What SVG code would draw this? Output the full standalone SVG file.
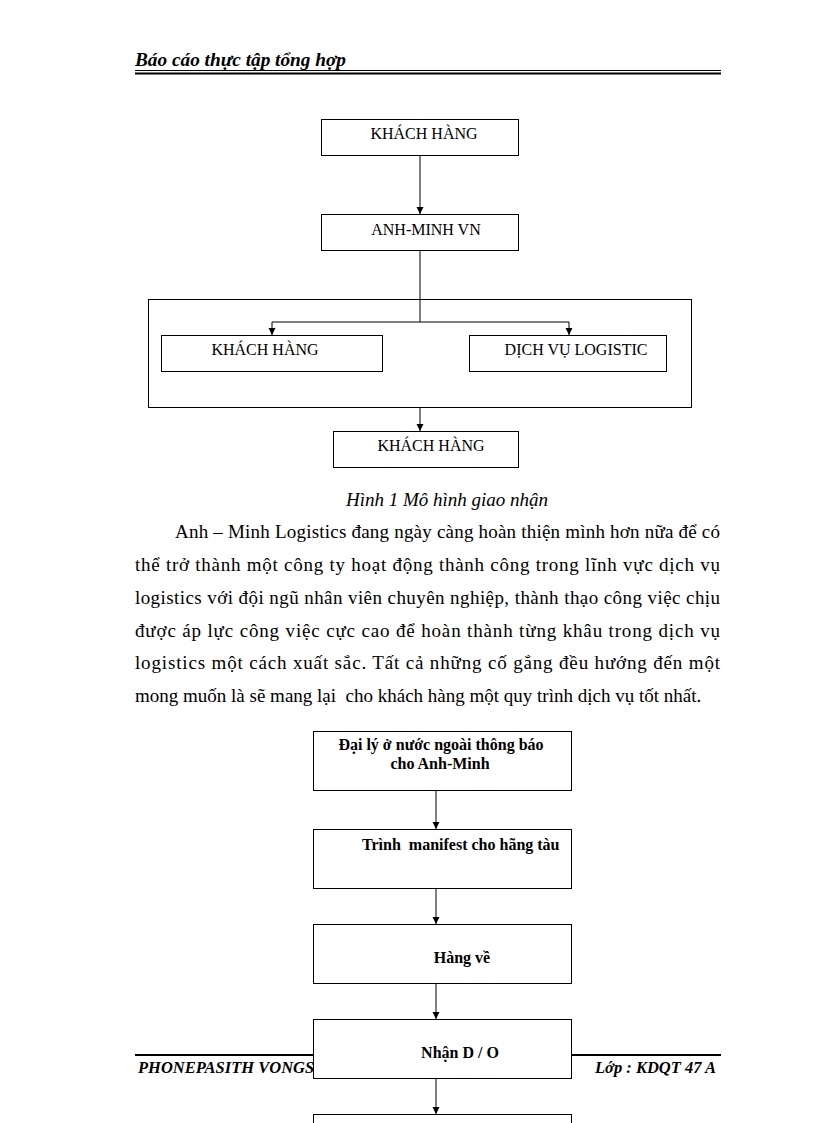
<svg xmlns="http://www.w3.org/2000/svg" width="816" height="1123" viewBox="0 0 816 1123">
<style>
.box{fill:#fff;stroke:#000;stroke-width:1}
.t{font-family:"Liberation Serif","Times New Roman",serif;fill:#000}
.n{font-size:16px}
.b{font-size:16px;font-weight:bold}
.p{font-size:19px}
.conn line{stroke:#000;stroke-width:1;fill:none}
</style>
<defs>
<marker id="ad" markerWidth="8" markerHeight="8" refX="4" refY="8" markerUnits="userSpaceOnUse" viewBox="0 0 8 8">
<path d="M0.5,1 L7.5,1 L4,8 Z" fill="#000"/>
</marker>
</defs>
<rect width="816" height="1123" fill="#fff"/>
<g id="header">
<text class="t" x="135" y="66" font-size="19.3" font-weight="bold" font-style="italic">Báo cáo thực tập tổng hợp</text>
<line x1="135" y1="70.5" x2="721" y2="70.5" stroke="#000" stroke-width="1"/>
<line x1="135" y1="73.5" x2="721" y2="73.5" stroke="#000" stroke-width="2"/>
</g>
<g id="footer">
<line x1="135" y1="1055" x2="721" y2="1055" stroke="#000" stroke-width="2"/>
<text class="t" x="138" y="1073" font-size="16.5" font-weight="bold" font-style="italic">PHONEPASITH VONGS</text>
<text class="t" x="716" y="1073" font-size="16.5" font-weight="bold" font-style="italic" text-anchor="end">Lớp : KDQT 47 A</text>
</g>
<g id="group-box"><rect class="box" x="148.5" y="299.5" width="543" height="108" fill="none"/></g>
<g class="conn" id="connectors">
<line x1="420" y1="155" x2="420" y2="214" marker-end="url(#ad)"/>
<line x1="420" y1="250" x2="420" y2="322"/>
<line x1="272" y1="322" x2="569" y2="322"/>
<line x1="272" y1="322" x2="272" y2="335" marker-end="url(#ad)"/>
<line x1="569" y1="322" x2="569" y2="335" marker-end="url(#ad)"/>
<line x1="420" y1="407" x2="420" y2="431" marker-end="url(#ad)"/>
<line x1="436" y1="790" x2="436" y2="829" marker-end="url(#ad)"/>
<line x1="436" y1="889" x2="436" y2="924" marker-end="url(#ad)"/>
<line x1="436" y1="984" x2="436" y2="1019" marker-end="url(#ad)"/>
<line x1="436" y1="1079" x2="436" y2="1114" marker-end="url(#ad)"/>
</g>
<g id="n1"><rect class="box" x="321.5" y="119.5" width="197" height="36"/><text class="t n" x="424" y="139" text-anchor="middle">KHÁCH HÀNG</text></g>
<g id="n2"><rect class="box" x="321.5" y="214.5" width="197" height="36"/><text class="t n" x="426" y="235" text-anchor="middle">ANH-MINH VN</text></g>
<g id="n3"><rect class="box" x="161.5" y="335.5" width="221" height="36"/><text class="t n" x="265" y="355" text-anchor="middle">KHÁCH HÀNG</text></g>
<g id="n4"><rect class="box" x="469.5" y="335.5" width="197" height="36"/><text class="t n" x="576" y="355" text-anchor="middle">DỊCH VỤ LOGISTIC</text></g>
<g id="n5"><rect class="box" x="333.5" y="431.5" width="185" height="36"/><text class="t n" x="431" y="451" text-anchor="middle">KHÁCH HÀNG</text></g>
<g id="caption"><text class="t" x="447" y="506" font-size="19" font-style="italic" text-anchor="middle">Hình 1 Mô hình giao nhận</text></g>
<g id="paragraph" class="t p">
<text x="175" y="538" textLength="545" lengthAdjust="spacing">Anh – Minh Logistics đang ngày càng hoàn thiện mình hơn nữa để có</text>
<text x="135" y="571" textLength="585" lengthAdjust="spacing">thể trở thành một công ty hoạt động thành công trong lĩnh vực dịch vụ</text>
<text x="135" y="604" textLength="585" lengthAdjust="spacing">logistics với đội ngũ nhân viên chuyên nghiệp, thành thạo công việc chịu</text>
<text x="135" y="637" textLength="585" lengthAdjust="spacing">được áp lực công việc cực cao để hoàn thành từng khâu trong dịch vụ</text>
<text x="135" y="669" textLength="585" lengthAdjust="spacing">logistics một cách xuất sắc. Tất cả những cố gắng đều hướng đến một</text>
<text x="135" y="702" xml:space="preserve">mong muốn là sẽ mang lại  cho khách hàng một quy trình dịch vụ tốt nhất.</text>
</g>
<g id="s1"><rect class="box" x="313.5" y="731.5" width="258" height="59"/><text class="t b" x="441" y="750" text-anchor="middle">Đại lý ở nước ngoài thông báo</text><text class="t b" x="440" y="769" text-anchor="middle">cho Anh-Minh</text></g>
<g id="s2"><rect class="box" x="313.5" y="829.5" width="258" height="59"/><text class="t b" x="362" y="850" xml:space="preserve">Trình  manifest cho hãng tàu</text></g>
<g id="s3"><rect class="box" x="313.5" y="924.5" width="258" height="59"/><text class="t b" x="462" y="963" text-anchor="middle">Hàng về</text></g>
<g id="s4"><rect class="box" x="313.5" y="1019.5" width="258" height="59"/><text class="t b" x="460" y="1058" text-anchor="middle">Nhận D / O</text></g>
<g id="s5"><rect class="box" x="313.5" y="1114.5" width="258" height="40"/></g>
</svg>
